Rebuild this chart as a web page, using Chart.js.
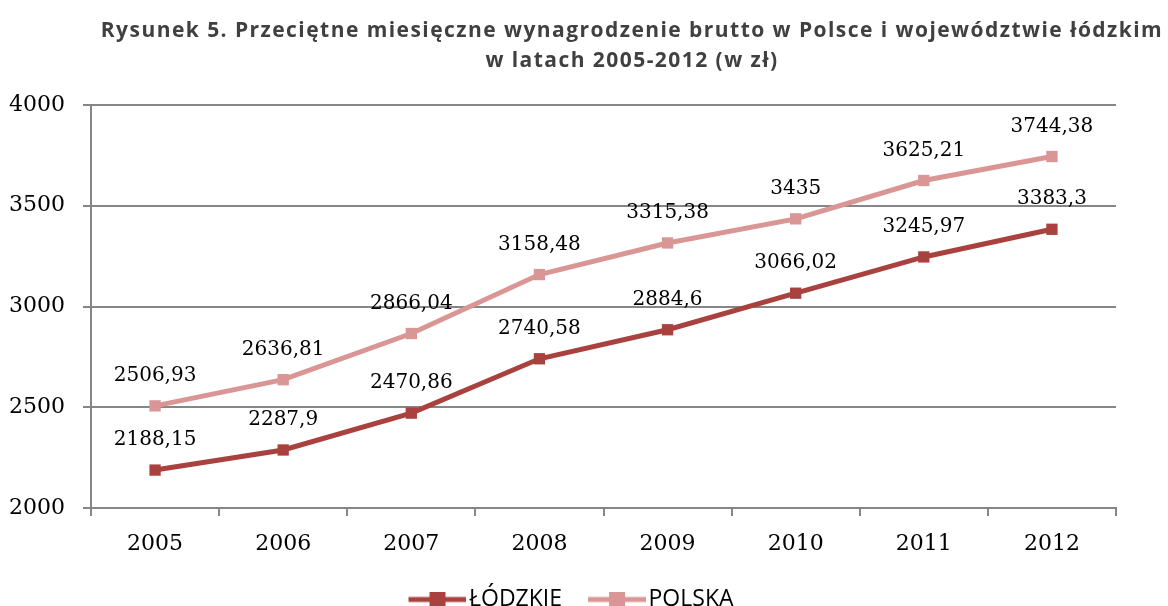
<!DOCTYPE html>
<html>
<head>
<meta charset="utf-8">
<script src="https://cdn.jsdelivr.net/npm/chart.js@4/dist/chart.umd.min.js"></script>
<style>
html,body{margin:0;padding:0;background:#fff;}
#wrap{position:relative;width:1168px;height:606px;}
#title{position:absolute;left:0;top:14px;width:1264px;text-align:center;font-family:"Open Sans",sans-serif;font-weight:bold;font-size:21px;line-height:30px;color:#404040;letter-spacing:1.45px;}
canvas{position:absolute;left:0;top:0;}
</style>
</head>
<body>
<div id="wrap">
<canvas id="c" width="1168" height="606"></canvas>
<div id="title">Rysunek 5. Przeciętne miesięczne wynagrodzenie brutto w Polsce i województwie łódzkim<br>w latach 2005-2012 (w zł)</div>
</div>
<script>
const years = ['2005','2006','2007','2008','2009','2010','2011','2012'];
const lodzkie = [2188.15, 2287.9, 2470.86, 2740.58, 2884.6, 3066.02, 3245.97, 3383.3];
const polska = [2506.93, 2636.81, 2866.04, 3158.48, 3315.38, 3435, 3625.21, 3744.38];
const yTicks = [2000, 2500, 3000, 3500, 4000];
const seriesNames = ['ŁÓDZKIE', 'POLSKA'];
const colors = ['#A9423F', '#D99694'];

function legendIcon(color){
  const cv = document.createElement('canvas');
  cv.width = 67; cv.height = 16;
  const g = cv.getContext('2d');
  g.strokeStyle = color; g.lineWidth = 5;
  g.beginPath(); g.moveTo(9, 8); g.lineTo(67, 8); g.stroke();
  g.fillStyle = color; g.fillRect(30, 0, 16, 16);
  return cv;
}

const labelPlugin = {
  id: 'valueLabels',
  afterLayout(chart){
    const lg = chart.legend;
    if (lg) { lg.left += 9; lg.right += 9; lg.top += 2; lg.bottom += 2; }
  },
  afterDatasetsDraw(chart){
    const ctx = chart.ctx;
    ctx.save();
    ctx.font = '20px "DejaVu Serif"';
    ctx.fillStyle = '#000';
    ctx.textAlign = 'center';
    ctx.textBaseline = 'middle';
    chart.data.datasets.forEach((ds, i) => {
      const meta = chart.getDatasetMeta(i);
      meta.data.forEach((pt, j) => {
        const txt = String(ds.data[j]).replace('.', ',');
        ctx.fillText(txt, pt.x, pt.y - 30);
      });
    });
    ctx.restore();
  }
};

new Chart(document.getElementById('c'), {
  type: 'line',
  data: {
    labels: years,
    datasets: [
      {label: seriesNames[0], data: lodzkie, borderColor: colors[0], backgroundColor: colors[0], borderWidth: 5, pointStyle: 'rect', pointRadius: 8, pointHoverRadius: 8, pointBorderWidth: 0, tension: 0},
      {label: seriesNames[1], data: polska, borderColor: colors[1], backgroundColor: colors[1], borderWidth: 5, pointStyle: 'rect', pointRadius: 8, pointHoverRadius: 8, pointBorderWidth: 0, tension: 0}
    ]
  },
  options: {
    responsive: false,
    animation: false,
    layout: {padding: {top: 105, left: 8, right: 52, bottom: -13}},
    scales: {
      x: {
        offset: true,
        afterFit(axis){ axis.height = 52; },
        grid: {offset: true, drawOnChartArea: false, drawTicks: true, tickLength: 8, color: '#868686', lineWidth: 2},
        border: {color: '#868686', width: 2},
        ticks: {font: {family: 'DejaVu Serif', size: 22}, color: '#000', padding: 15}
      },
      y: {
        min: 2000, max: 4000,
        afterFit(axis){ axis.width = 83; },
        afterBuildTicks(axis){ axis.ticks = yTicks.map(v => ({value: v})); },
        grid: {color: '#868686', lineWidth: 2, tickLength: 8},
        border: {color: '#868686', width: 2},
        ticks: {font: {family: 'DejaVu Serif', size: 22}, color: '#000', padding: 18, callback: v => String(v)}
      }
    },
    plugins: {
      legend: {
        position: 'bottom',
        labels: {
          usePointStyle: true,
          pointStyleWidth: 49,
          boxHeight: 16,
          padding: 26,
          font: {family: 'Open Sans', size: 23},
          color: '#000',
          generateLabels(chart){
            return chart.data.datasets.map((ds, i) => ({
              text: ds.label, pointStyle: legendIcon(colors[i]), datasetIndex: i,
              fillStyle: colors[i], strokeStyle: colors[i], lineWidth: 0, hidden: false
            }));
          }
        }
      },
      title: {display: false},
      tooltip: {enabled: false}
    }
  },
  plugins: [labelPlugin]
});
</script>
</body>
</html>
